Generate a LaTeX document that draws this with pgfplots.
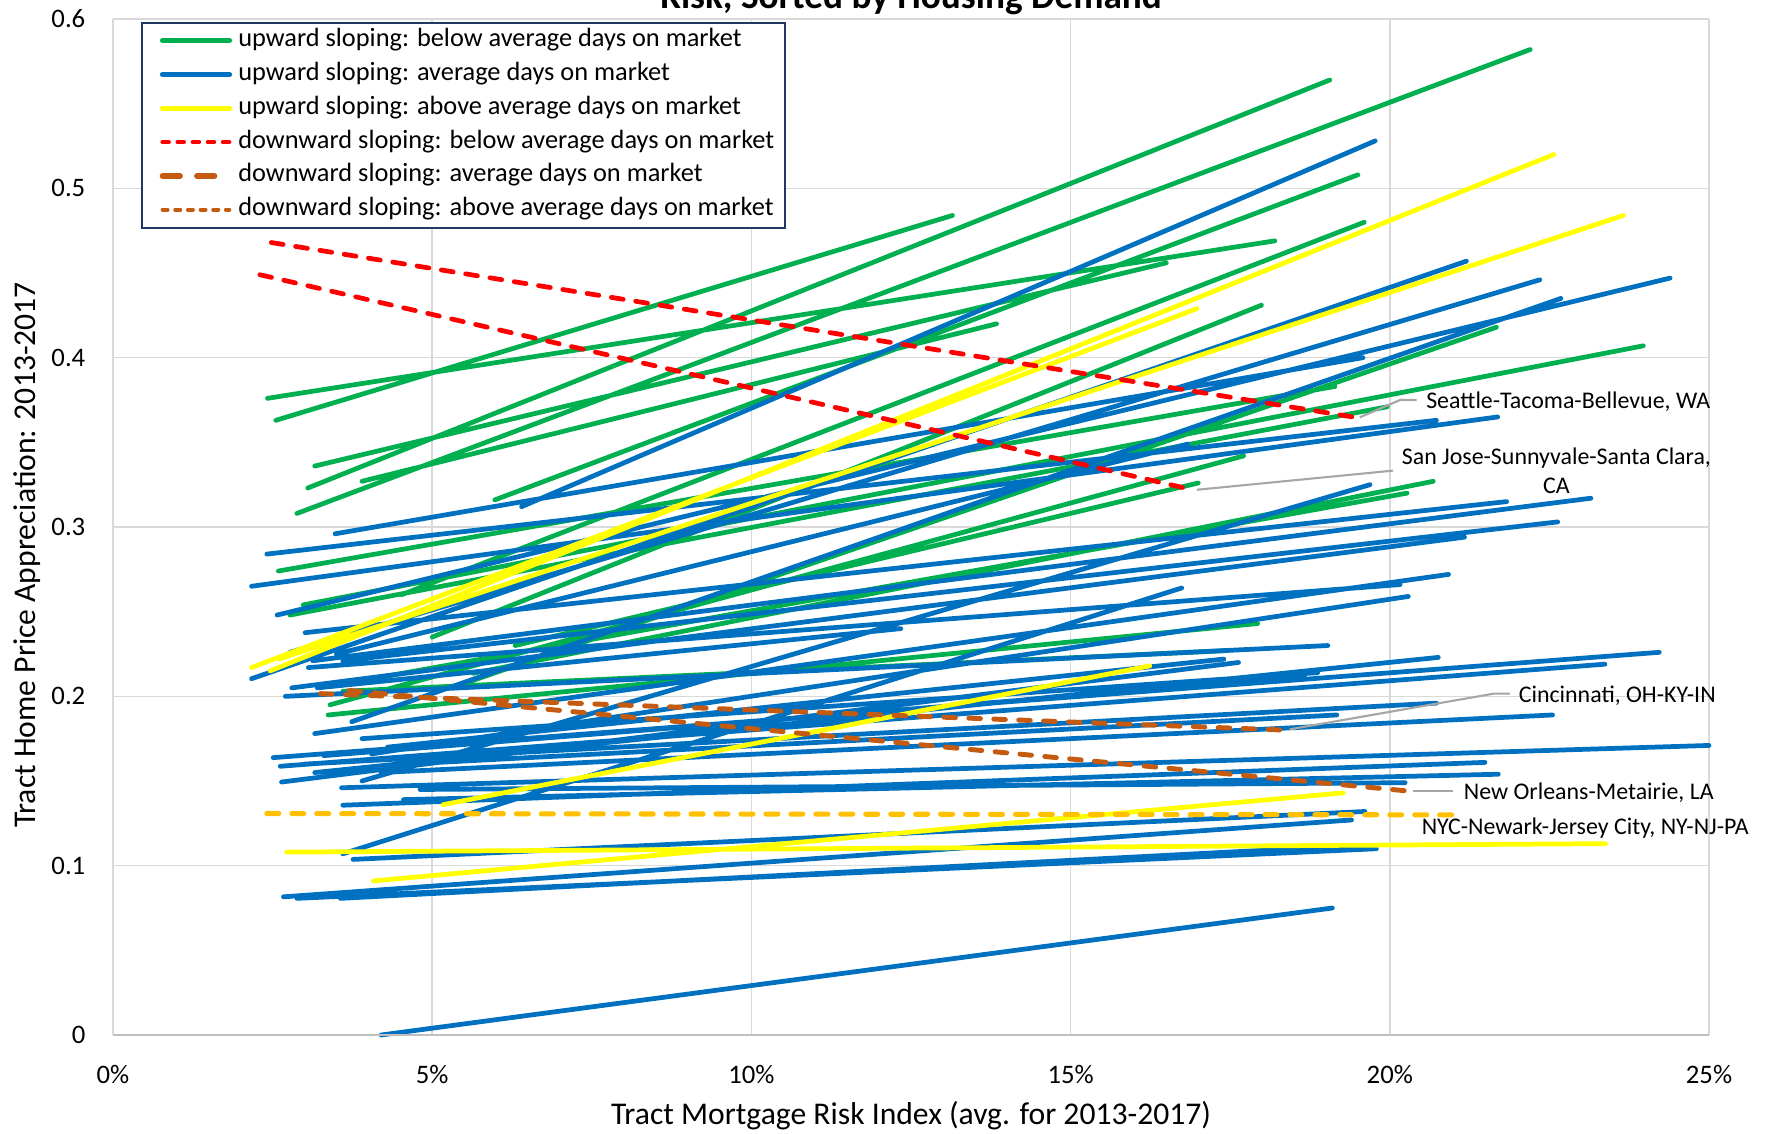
\documentclass[border=0pt]{standalone}
\usepackage{fontspec}
\setmainfont{Carlito}
\usepackage{pgfplots}
\pgfplotsset{compat=1.18}
\definecolor{cgreen}{HTML}{00B050}
\definecolor{cblue}{HTML}{0070C0}
\definecolor{cyellow}{HTML}{FFFF00}
\definecolor{cred}{HTML}{FF0000}
\definecolor{corange}{HTML}{C55A11}
\definecolor{cgold}{HTML}{FFC000}
\definecolor{gridc}{HTML}{D9D9D9}
\definecolor{axc}{HTML}{BFBFBF}
\definecolor{leadc}{HTML}{A6A6A6}
\definecolor{legb}{HTML}{203864}
\pgfplotsset{
 gl/.style={cgreen, line width=1.35pt, line cap=round},
 bl/.style={cblue, line width=1.35pt, line cap=round},
 yl/.style={cyellow, line width=1.35pt, line cap=round},
 rdash/.style={cred, line width=1.35pt, line cap=round, dash pattern=on 3.4pt off 3.6pt},
 odash/.style={corange, line width=1.4pt, line cap=round, dash pattern=on 3.3pt off 3.8pt},
 gdash/.style={cgold, line width=1.45pt, line cap=round, dash pattern=on 3.4pt off 3.7pt},
}
\begin{document}
\begin{tikzpicture}
\begin{axis}[
 at={(1.13cm,0.98cm)}, anchor=south west,
 width=15.96cm, height=10.16cm, scale only axis,
 xmin=0, xmax=25, ymin=0, ymax=0.6,
 xtick={0,5,10,15,20,25}, xticklabels={0\%,5\%,10\%,15\%,20\%,25\%},
 ytick={0,0.1,0.2,0.3,0.4,0.5,0.6}, yticklabels={0,0.1,0.2,0.3,0.4,0.5,0.6},
 grid=major, major grid style={gridc, line width=0.45pt},
 axis line style={draw=none}, tick style={draw=none},
 tick label style={font=\fontsize{7.6}{9}\selectfont},
 yticklabel style={inner sep=0pt, anchor=east, xshift=-0.27cm},
 xticklabel style={inner sep=0pt, anchor=north, yshift=-0.30cm},
 clip=false, unbounded coords=jump,
 legend style={at={(0.0173,0.9973)}, anchor=north west, draw=legb, line width=0.6pt, fill=white,
   font=\fontsize{7.5}{9}\selectfont, inner xsep=0.11cm, inner ysep=0.01cm, row sep=0pt,
   nodes={inner sep=0pt, text height=0.229cm, text depth=0.109cm}},
 legend cell align=left,
 legend image code/.code={\draw[#1] (0.07cm,0cm) -- (0.74cm,0cm); \path (0cm,0cm) (0.80cm,0cm);},
]
\addlegendimage{cgreen, line width=1.5pt, line cap=round}
\addlegendentry{upward sloping: below average days on market}
\addlegendimage{cblue, line width=1.5pt, line cap=round}
\addlegendentry{upward sloping: average days on market}
\addlegendimage{cyellow, line width=1.5pt, line cap=round}
\addlegendentry{upward sloping: above average days on market}
\addlegendimage{cred, line width=1.2pt, line cap=round, dash pattern=on 1.8pt off 2.5pt}
\addlegendentry{downward sloping: below average days on market}
\addlegendimage{corange, line width=1.6pt, line cap=round, dash pattern=on 5pt off 4.8pt}
\addlegendentry{downward sloping: average days on market}
\addlegendimage{corange, line width=1.05pt, line cap=round, dash pattern=on 1.5pt off 2.1pt}
\addlegendentry{downward sloping: above average days on market}

% green: upward sloping, below average days on market
\addplot[gl, forget plot] coordinates {
(2.42,0.376) (18.2,0.469) (nan,nan)
(2.55,0.363) (13.15,0.484) (nan,nan)
(2.88,0.308) (22.2,0.582) (nan,nan)
(3.05,0.323) (19.06,0.564) (nan,nan)
(3.16,0.336) (16.5,0.456) (nan,nan)
(3.9,0.327) (13.84,0.420) (nan,nan)
(5.98,0.316) (19.5,0.508) (nan,nan)
(2.98,0.254) (23.97,0.407) (nan,nan)
(4.52,0.260) (19.6,0.480) (nan,nan)
(2.59,0.274) (19.14,0.383) (nan,nan)
(2.77,0.248) (19.96,0.371) (nan,nan)
(5.3,0.205) (21.67,0.418) (nan,nan)
(5.0,0.235) (17.99,0.431) (nan,nan)
(3.37,0.189) (17.93,0.243) (nan,nan)
(3.40,0.195) (17.71,0.342) (nan,nan)
(5.64,0.2136) (20.68,0.327) (nan,nan)
(4.0,0.21) (20.27,0.320) (nan,nan)
(3.6,0.203) (17.44,0.227) (nan,nan)
(6.3,0.23) (17.0,0.326)
};
% blue: upward sloping, average days on market
\addplot[bl, forget plot] coordinates {
(6.4,0.312) (19.77,0.528) (nan,nan)
(2.17,0.2104) (21.2,0.457) (nan,nan)
(2.77,0.226) (22.35,0.446) (nan,nan)
(2.57,0.248) (24.39,0.447) (nan,nan)
(3.74,0.185) (22.68,0.435) (nan,nan)
(3.48,0.296) (19.58,0.400) (nan,nan)
(2.41,0.284) (20.73,0.363) (nan,nan)
(2.17,0.265) (21.69,0.365) (nan,nan)
(3.5,0.225) (16.84,0.349) (nan,nan)
(3.9,0.15) (19.69,0.325) (nan,nan)
(3.01,0.2376) (21.83,0.315) (nan,nan)
(3.13,0.221) (23.15,0.317) (nan,nan)
(3.6,0.221) (22.63,0.303) (nan,nan)
(2.8,0.205) (21.17,0.294) (nan,nan)
(3.16,0.178) (20.92,0.272) (nan,nan)
(3.06,0.217) (20.16,0.266) (nan,nan)
(4.05,0.166) (20.29,0.259) (nan,nan)
(3.6,0.107) (16.74,0.264) (nan,nan)
(3.2,0.205) (12.34,0.240) (nan,nan)
(2.7,0.2) (19.03,0.230) (nan,nan)
(2.51,0.1638) (24.22,0.226) (nan,nan)
(2.62,0.1587) (23.37,0.219) (nan,nan)
(3.16,0.155) (20.76,0.223) (nan,nan)
(2.64,0.1494) (17.63,0.220) (nan,nan)
(4.3,0.17) (17.4,0.222) (nan,nan)
(3.3,0.165) (18.67,0.211) (nan,nan)
(3.9,0.175) (18.87,0.214) (nan,nan)
(3.0,0.16) (20.73,0.196) (nan,nan)
(4.6,0.16) (19.17,0.189) (nan,nan)
(4.2,0.155) (22.55,0.189) (nan,nan)
(3.58,0.146) (25.0,0.171) (nan,nan)
(3.6,0.1357) (21.49,0.161) (nan,nan)
(4.55,0.139) (21.7,0.154) (nan,nan)
(4.81,0.145) (20.24,0.149) (nan,nan)
(3.76,0.1037) (19.61,0.132) (nan,nan)
(2.67,0.0816) (19.4,0.127) (nan,nan)
(2.88,0.0807) (19.79,0.110) (nan,nan)
(3.56,0.0807) (19.5,0.112) (nan,nan)
(4.2,0.0) (19.1,0.075)
};
% yellow: upward sloping, above average days on market
\addplot[yl, forget plot] coordinates {
(2.17,0.217) (16.98,0.429) (nan,nan)
(2.46,0.215) (22.57,0.520) (nan,nan)
(2.6,0.222) (23.66,0.484) (nan,nan)
(5.17,0.136) (16.24,0.218) (nan,nan)
(2.72,0.108) (23.38,0.113) (nan,nan)
(4.08,0.091) (19.27,0.143)
};
% downward sloping
\addplot[gdash, forget plot] coordinates {(2.41,0.1308) (21.04,0.130)};
\addplot[odash, forget plot] coordinates {(3.25,0.2016) (18.4,0.180)};
\addplot[odash, forget plot] coordinates {(3.7,0.2035) (20.31,0.144)};
\addplot[rdash, forget plot] coordinates {(2.48,0.468) (19.42,0.365)};
\addplot[rdash, forget plot] coordinates {(2.30,0.449) (16.85,0.3225)};

\draw[axc, line width=0.6pt] (axis cs:0,0) -- (axis cs:25,0);
% leader lines and labels
\draw[leadc, line width=0.6pt] (axis cs:19.53,0.3648) -- (axis cs:20.16,0.375) -- (axis cs:20.42,0.375);
\draw[leadc, line width=0.6pt] (axis cs:16.98,0.322) -- (axis cs:20.05,0.3333);
\draw[leadc, line width=0.6pt] (axis cs:18.43,0.1805) -- (axis cs:21.63,0.2016) -- (axis cs:21.88,0.2016);
\draw[leadc, line width=0.6pt] (axis cs:20.36,0.1441) -- (axis cs:20.99,0.1441);
\node[font=\fontsize{6.8}{8.2}\selectfont, anchor=base west, inner sep=0pt] at (axis cs:20.56,0.3697) {Seattle-Tacoma-Bellevue, WA};
\node[font=\fontsize{6.8}{8.2}\selectfont, anchor=base, inner sep=0pt] at (axis cs:22.61,0.3367) {San Jose-Sunnyvale-Santa Clara,};
\node[font=\fontsize{6.8}{8.2}\selectfont, anchor=base, inner sep=0pt] at (axis cs:22.61,0.3196) {CA};
\node[font=\fontsize{6.8}{8.2}\selectfont, anchor=base west, inner sep=0pt] at (axis cs:22.01,0.1966) {Cincinnati, OH-KY-IN};
\node[font=\fontsize{6.8}{8.2}\selectfont, anchor=base west, inner sep=0pt] at (axis cs:21.15,0.1392) {New Orleans-Metairie, LA};
\node[font=\fontsize{6.8}{8.2}\selectfont, anchor=base west, inner sep=0pt] at (axis cs:20.49,0.1186) {NYC-Newark-Jersey City, NY-NJ-PA};
\end{axis}
\node[font=\bfseries\fontsize{10.6}{12}\selectfont, anchor=base, inner sep=0pt] at (9.11cm,11.25cm) {Risk, Sorted by Housing Demand};
\node[font=\fontsize{9}{11}\selectfont, anchor=base, inner sep=0pt] at (9.11cm,0.09cm) {Tract Mortgage Risk Index (avg. for 2013-2017)};
\node[font=\fontsize{9}{11}\selectfont, anchor=base, inner sep=0pt, rotate=90] at (0.36cm,5.78cm) {Tract Home Price Appreciation: 2013-2017};
\pgfresetboundingbox
\useasboundingbox (0,0) rectangle (17.75cm,11.33cm);
\end{tikzpicture}
\end{document}
